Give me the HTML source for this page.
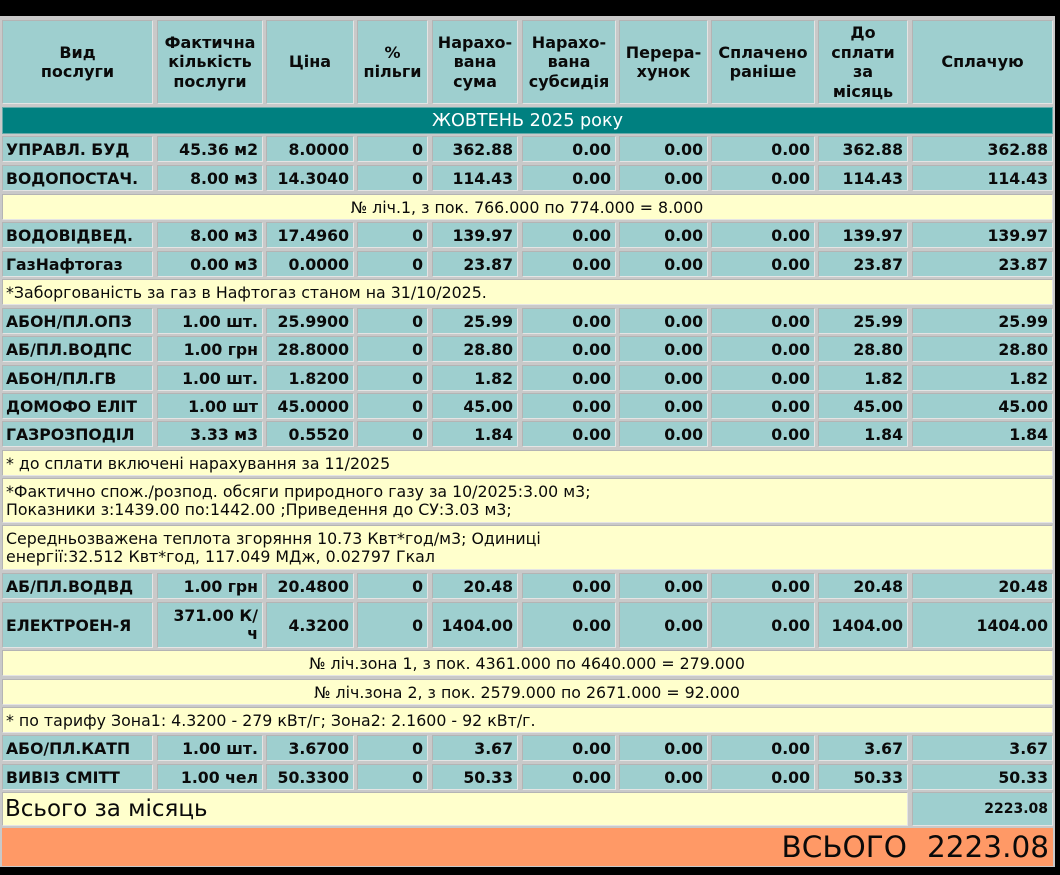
<!DOCTYPE html>
<html><head><meta charset="utf-8">
<style>
html,body{margin:0;padding:0;background:#000;}
body{width:1060px;height:875px;position:relative;overflow:hidden;font-family:"DejaVu Sans","Liberation Sans",sans-serif;color:#0a0a0a;}
#panel{position:absolute;left:0;top:16px;width:1055px;height:851px;background:#c9c9c9;}
.r{position:absolute;left:0;width:1055px;}
.c{position:absolute;top:0;height:100%;box-sizing:border-box;border:1px solid;border-color:#b4b4b4 #e4e4e4 #e4e4e4 #b4b4b4;background:#9ecfcf;display:flex;align-items:center;justify-content:flex-end;padding:0 4px;font-size:15.7px;font-weight:bold;white-space:nowrap;}
.c1{left:2px;width:151px;justify-content:flex-start;padding-left:3px;}
.c2{left:157px;width:106px;}
.c3{left:266px;width:88px;}
.c4{left:357px;width:71px;}
.c5{left:432px;width:86px;}
.c6{left:522px;width:94px;}
.c7{left:619px;width:89px;}
.c8{left:711px;width:104px;}
.c9{left:818px;width:90px;}
.c10{left:912px;width:141px;}
.h .c{justify-content:center;text-align:center;line-height:19.5px;font-size:16px;padding:0 2px;}
.full{left:2px;width:1051px;}
.y{background:#ffffcc;font-weight:normal;justify-content:flex-start;font-size:15.8px;padding-left:3px;}
.ctr{justify-content:center;}
.two{line-height:18px;white-space:normal;}
.teal{background:#008080;color:#fff;font-weight:normal;font-size:17.6px;justify-content:center;border-color:#6aa;}
.or{background:#ff9966;border:none;font-weight:normal;font-size:29.5px;}
</style></head><body>
<div id="panel"></div>

<div class="r h" style="top:20px;height:84px">
<div class="c c1">Вид<br>послуги</div>
<div class="c c2">Фактична<br>кількість<br>послуги</div>
<div class="c c3">Ціна</div>
<div class="c c4">%<br>пільги</div>
<div class="c c5">Нарахо-<br>вана<br>сума</div>
<div class="c c6">Нарахо-<br>вана<br>субсидія</div>
<div class="c c7">Перера-<br>хунок</div>
<div class="c c8">Сплачено<br>раніше</div>
<div class="c c9">До<br>сплати<br>за<br>місяць</div>
<div class="c c10">Сплачую</div>
</div>

<div class="r" style="top:107px;height:27px"><div class="c full teal">ЖОВТЕНЬ 2025 року</div></div>

<div class="r" style="top:136px;height:26px">
<div class="c c1">УПРАВЛ. БУД</div><div class="c c2">45.36 м2</div><div class="c c3">8.0000</div><div class="c c4">0</div><div class="c c5">362.88</div><div class="c c6">0.00</div><div class="c c7">0.00</div><div class="c c8">0.00</div><div class="c c9">362.88</div><div class="c c10">362.88</div>
</div>
<div class="r" style="top:165px;height:26px">
<div class="c c1">ВОДОПОСТАЧ.</div><div class="c c2">8.00 м3</div><div class="c c3">14.3040</div><div class="c c4">0</div><div class="c c5">114.43</div><div class="c c6">0.00</div><div class="c c7">0.00</div><div class="c c8">0.00</div><div class="c c9">114.43</div><div class="c c10">114.43</div>
</div>
<div class="r" style="top:194px;height:26px"><div class="c full y ctr">№ ліч.1, з пок. 766.000 по 774.000 = 8.000</div></div>
<div class="r" style="top:222px;height:26px">
<div class="c c1">ВОДОВІДВЕД.</div><div class="c c2">8.00 м3</div><div class="c c3">17.4960</div><div class="c c4">0</div><div class="c c5">139.97</div><div class="c c6">0.00</div><div class="c c7">0.00</div><div class="c c8">0.00</div><div class="c c9">139.97</div><div class="c c10">139.97</div>
</div>
<div class="r" style="top:251px;height:26px">
<div class="c c1">ГазНафтогаз</div><div class="c c2">0.00 м3</div><div class="c c3">0.0000</div><div class="c c4">0</div><div class="c c5">23.87</div><div class="c c6">0.00</div><div class="c c7">0.00</div><div class="c c8">0.00</div><div class="c c9">23.87</div><div class="c c10">23.87</div>
</div>
<div class="r" style="top:279px;height:26px"><div class="c full y">*Заборгованість за газ в Нафтогаз станом на 31/10/2025.</div></div>
<div class="r" style="top:308px;height:26px">
<div class="c c1">АБОН/ПЛ.ОПЗ</div><div class="c c2">1.00 шт.</div><div class="c c3">25.9900</div><div class="c c4">0</div><div class="c c5">25.99</div><div class="c c6">0.00</div><div class="c c7">0.00</div><div class="c c8">0.00</div><div class="c c9">25.99</div><div class="c c10">25.99</div>
</div>
<div class="r" style="top:336px;height:26px">
<div class="c c1">АБ/ПЛ.ВОДПС</div><div class="c c2">1.00 грн</div><div class="c c3">28.8000</div><div class="c c4">0</div><div class="c c5">28.80</div><div class="c c6">0.00</div><div class="c c7">0.00</div><div class="c c8">0.00</div><div class="c c9">28.80</div><div class="c c10">28.80</div>
</div>
<div class="r" style="top:365px;height:26px">
<div class="c c1">АБОН/ПЛ.ГВ</div><div class="c c2">1.00 шт.</div><div class="c c3">1.8200</div><div class="c c4">0</div><div class="c c5">1.82</div><div class="c c6">0.00</div><div class="c c7">0.00</div><div class="c c8">0.00</div><div class="c c9">1.82</div><div class="c c10">1.82</div>
</div>
<div class="r" style="top:393px;height:26px">
<div class="c c1">ДОМОФО ЕЛІТ</div><div class="c c2">1.00 шт</div><div class="c c3">45.0000</div><div class="c c4">0</div><div class="c c5">45.00</div><div class="c c6">0.00</div><div class="c c7">0.00</div><div class="c c8">0.00</div><div class="c c9">45.00</div><div class="c c10">45.00</div>
</div>
<div class="r" style="top:421px;height:26px">
<div class="c c1">ГАЗРОЗПОДІЛ</div><div class="c c2">3.33 м3</div><div class="c c3">0.5520</div><div class="c c4">0</div><div class="c c5">1.84</div><div class="c c6">0.00</div><div class="c c7">0.00</div><div class="c c8">0.00</div><div class="c c9">1.84</div><div class="c c10">1.84</div>
</div>
<div class="r" style="top:450px;height:26px"><div class="c full y">* до сплати включені нарахування за 11/2025</div></div>
<div class="r" style="top:478px;height:45px"><div class="c full y two">*Фактично спож./розпод. обсяги природного газу за 10/2025:3.00 м3;<br>Показники з:1439.00 по:1442.00 ;Приведення до СУ:3.03 м3;</div></div>
<div class="r" style="top:525px;height:45px"><div class="c full y two">Середньозважена теплота згоряння 10.73 Квт*год/м3; Одиниці<br>енергії:32.512 Квт*год, 117.049 МДж, 0.02797 Гкал</div></div>
<div class="r" style="top:573px;height:26px">
<div class="c c1">АБ/ПЛ.ВОДВД</div><div class="c c2">1.00 грн</div><div class="c c3">20.4800</div><div class="c c4">0</div><div class="c c5">20.48</div><div class="c c6">0.00</div><div class="c c7">0.00</div><div class="c c8">0.00</div><div class="c c9">20.48</div><div class="c c10">20.48</div>
</div>
<div class="r" style="top:602px;height:46px">
<div class="c c1">ЕЛЕКТРОЕН-Я</div><div class="c c2"><span style="text-align:right;line-height:18px">371.00 К/<br>ч</span></div><div class="c c3">4.3200</div><div class="c c4">0</div><div class="c c5">1404.00</div><div class="c c6">0.00</div><div class="c c7">0.00</div><div class="c c8">0.00</div><div class="c c9">1404.00</div><div class="c c10">1404.00</div>
</div>
<div class="r" style="top:650px;height:26px"><div class="c full y ctr">№ ліч.зона 1, з пок. 4361.000 по 4640.000 = 279.000</div></div>
<div class="r" style="top:679px;height:26px"><div class="c full y ctr">№ ліч.зона 2, з пок. 2579.000 по 2671.000 = 92.000</div></div>
<div class="r" style="top:707px;height:26px"><div class="c full y">* по тарифу Зона1: 4.3200 - 279 кВт/г; Зона2: 2.1600 - 92 кВт/г.</div></div>
<div class="r" style="top:735px;height:26px">
<div class="c c1">АБО/ПЛ.КАТП</div><div class="c c2">1.00 шт.</div><div class="c c3">3.6700</div><div class="c c4">0</div><div class="c c5">3.67</div><div class="c c6">0.00</div><div class="c c7">0.00</div><div class="c c8">0.00</div><div class="c c9">3.67</div><div class="c c10">3.67</div>
</div>
<div class="r" style="top:764px;height:26px">
<div class="c c1">ВИВІЗ СМІТТ</div><div class="c c2">1.00 чел</div><div class="c c3">50.3300</div><div class="c c4">0</div><div class="c c5">50.33</div><div class="c c6">0.00</div><div class="c c7">0.00</div><div class="c c8">0.00</div><div class="c c9">50.33</div><div class="c c10">50.33</div>
</div>
<div class="r" style="top:792px;height:34px">
<div class="c y" style="left:2px;width:906px;font-size:23px;padding-left:2px">Всього за місяць</div>
<div class="c c10" style="font-size:14px">2223.08</div>
</div>
<div class="r" style="top:828px;height:38px">
<div class="c or" style="left:2px;width:910px;padding-right:5px">ВСЬОГО</div>
<div class="c or" style="left:912px;width:141px">2223.08</div>
</div>
</body></html>
